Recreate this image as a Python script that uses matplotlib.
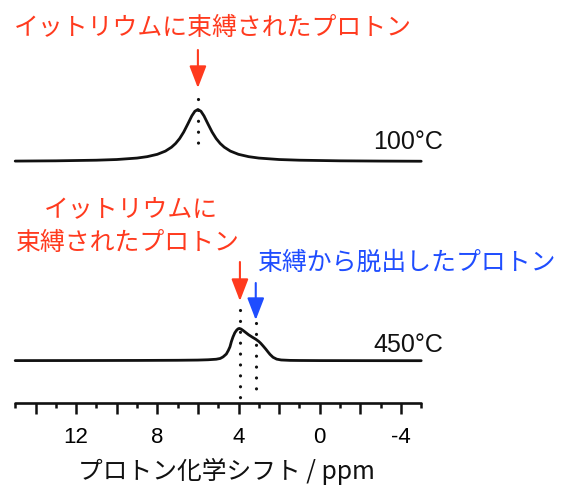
import matplotlib
matplotlib.use('Agg')
import matplotlib.pyplot as plt
from matplotlib.patches import FancyArrowPatch, ArrowStyle

# ---------------- data ----------------
ppm_100 = [15, 13, 11, 10, 9, 8.5, 8.0, 7.6, 7.3, 7.1, 6.9, 6.7, 6.5, 6.3, 6.15, 6.0,
           5.85, 5.7, 5.5, 5.3, 5.1, 4.9, 4.7, 4.4, 4.0, 3.5, 3.0, 2.0, 1.0, -1, -3, -5]
int_100 = [0.008, 0.013, 0.025, 0.038, 0.066, 0.093, 0.138, 0.200, 0.275, 0.346, 0.441,
           0.566, 0.719, 0.877, 0.966, 1.000, 0.966, 0.877, 0.719, 0.566, 0.441, 0.346,
           0.275, 0.200, 0.138, 0.093, 0.066, 0.038, 0.025, 0.013, 0.008, 0.005]

ppm_450 = [15, 12, 9, 7, 6, 5.5, 5.1, 4.9, 4.76, 4.6, 4.5, 4.42, 4.35, 4.27, 4.18, 4.09,
           4.02, 3.96, 3.88, 3.78, 3.68, 3.5, 3.3, 3.15, 3.0, 2.9, 2.78, 2.65, 2.55, 2.45,
           2.3, 2.12, 1.9, 1.46, 1.0, 0, -2, -5]
int_450 = [0.004, 0.005, 0.007, 0.010, 0.014, 0.020, 0.030, 0.045, 0.075, 0.130, 0.200,
           0.270, 0.370, 0.460, 0.540, 0.590, 0.615, 0.623, 0.612, 0.585, 0.555, 0.500,
           0.450, 0.415, 0.372, 0.335, 0.282, 0.222, 0.172, 0.124, 0.068, 0.032, 0.016,
           0.008, 0.006, 0.004, 0.003, 0.002]

peak_bound_100 = 6.0      # ppm, Y-bound proton at 100 C
peak_bound_450 = 3.93     # ppm, Y-bound proton at 450 C
peak_free_450 = 3.15      # ppm, escaped proton at 450 C

major_ticks = [14, 12, 10, 8, 6, 4, 2, 0, -2, -4]
major_labels = ['', '12', '', '8', '', '4', '', '0', '', '-4']
minor_ticks = [15, 13, 11, 9, 7, 5, 3, 1, -1, -3, -5]

temp_labels = ['100°C', '450°C']
title_bound = 'イットリウムに束縛されたプロトン'
label_bound_1 = 'イットリウムに'
label_bound_2 = '束縛されたプロトン'
label_free = '束縛から脱出したプロトン'
xlabel = 'プロトン化学シフト / ppm'

# ---------------- layout / style ----------------
W, H, DPI = 561, 486, 100
RED = '#ff3a1e'
BLUE = '#1f4dff'
BLACK = '#111111'
JP = ['Noto Sans CJK JP', 'DejaVu Sans']
LAT = ['Liberation Sans', 'DejaVu Sans']

x_left_px, x_right_px = 15.2, 421.2   # pixel of 15 ppm and -5 ppm
spine_px = 403.0
base_100, base_450 = 161.5, 360.8
scale_px = 52.0

fig = plt.figure(figsize=(W / DPI, H / DPI), dpi=DPI)
ax = fig.add_axes([x_left_px / W, 1 - spine_px / H, (x_right_px - x_left_px) / W, spine_px / H])
ax.set_xlim(15, -5)
ax.set_ylim(spine_px, 0)   # y in pixel units from top of figure
ax.patch.set_alpha(0)

for s in ['top', 'left', 'right']:
    ax.spines[s].set_visible(False)
ax.spines['bottom'].set_linewidth(1.9)
ax.spines['bottom'].set_color(BLACK)
ax.spines['bottom'].set_capstyle('round')

ax.set_yticks([])
ax.set_xticks(major_ticks)
ax.set_xticklabels(major_labels, fontfamily=LAT, fontsize=16)
ax.set_xticks(minor_ticks, minor=True)
ax.tick_params(axis='x', which='major', length=7.6, width=1.8, color=BLACK, pad=10)
ax.tick_params(axis='x', which='minor', length=3.8, width=1.8, color=BLACK)

# spectra
ax.plot(ppm_100, [base_100 - v * scale_px for v in int_100], color=BLACK, lw=2.0,
        solid_joinstyle='round', solid_capstyle='round', clip_on=False)
ax.plot(ppm_450, [base_450 - v * scale_px for v in int_450], color=BLACK, lw=2.0,
        solid_joinstyle='round', solid_capstyle='round', clip_on=False)

# dotted guide lines
dot = dict(lw=2.3, linestyle=(0, (0.01, 3.4)), dash_capstyle='round', color=BLACK)
ax.plot([peak_bound_100, peak_bound_100], [99, 152], **dot)
ax.plot([peak_bound_450, peak_bound_450], [310, 398], **dot)
ax.plot([peak_free_450, peak_free_450], [323, 398], **dot)

# arrows
def arrow(x, y0, y1, color):
    st = ArrowStyle('-|>', head_length=13.5, head_width=5.2)
    p = FancyArrowPatch((x, y0), (x, y1), arrowstyle=st, mutation_scale=1,
                        color=color, lw=1.5, shrinkA=0, shrinkB=0, clip_on=False)
    ax.add_patch(p)

arrow(peak_bound_100, 50, 88, RED)
arrow(peak_bound_450, 262, 301, RED)
arrow(peak_free_450, 283, 320, BLUE)

# texts (pixel positions)
def ftext(xp, yp, s, **kw):
    fig.text(xp / W, 1 - yp / H, s, **kw)

ftext(213, 28, title_bound, color=RED, fontsize=17.9, family=JP, ha='center', va='center')
ftext(131, 209, label_bound_1, color=RED, fontsize=17.9, family=JP, ha='center', va='center')
ftext(127, 243, label_bound_2, color=RED, fontsize=17.9, family=JP, ha='center', va='center')
ftext(257, 263, label_free, color=BLUE, fontsize=17.9, family=JP, ha='left', va='center')
ftext(443, 141.5, temp_labels[0], color=BLACK, fontsize=18, family=LAT, ha='right', va='center')
ftext(443, 345, temp_labels[1], color=BLACK, fontsize=18, family=LAT, ha='right', va='center')

ax.set_xlabel(xlabel, fontsize=17.8, family=JP, color=BLACK)
ax.xaxis.set_label_coords((226 - x_left_px) / (x_right_px - x_left_px), (spine_px - 471) / spine_px)
ax.xaxis.label.set_va('center')

fig.savefig('out.png', dpi=DPI)
